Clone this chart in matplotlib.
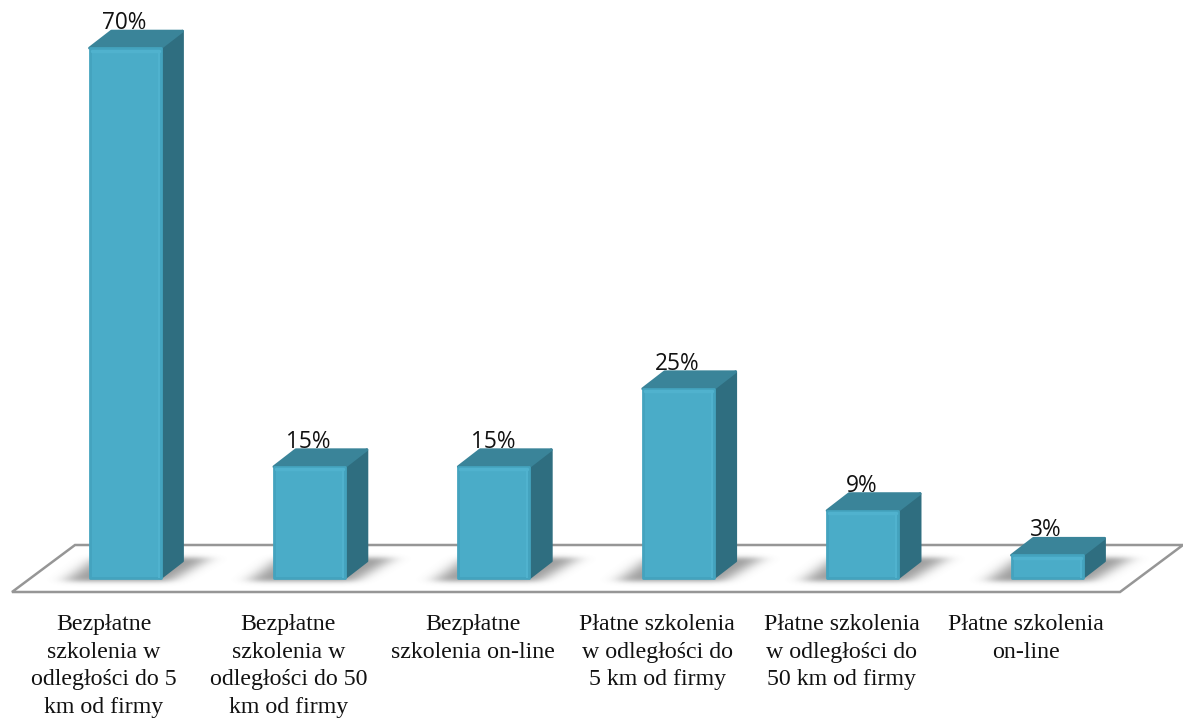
import numpy as np
import matplotlib
matplotlib.use("Agg")
import matplotlib.pyplot as plt
from matplotlib.patches import Polygon
from matplotlib.path import Path

categories = [
    "Bezpłatne\nszkolenia w\nodległości do 5\nkm od firmy",
    "Bezpłatne\nszkolenia w\nodległości do 50\nkm od firmy",
    "Bezpłatne\nszkolenia on-line",
    "Płatne szkolenia\nw odległości do\n5 km od firmy",
    "Płatne szkolenia\nw odległości do\n50 km od firmy",
    "Płatne szkolenia\non-line",
]
values = [70, 14.7, 14.7, 25, 8.9, 3]   # bar heights

W, H = 1183, 718
fig = plt.figure(figsize=(W / 100, H / 100), dpi=100)
ax = fig.add_axes([0, 0, 1, 1])
px_x = 184.4      # pixels per category
px_y = 7.57       # pixels per percent
x0_px = 125.0     # pixel of first category centre
y0_px = 578.0     # pixel of value 0
ax.set_xlim(-x0_px / px_x, (W - x0_px) / px_x)
ax.set_ylim(-(H - y0_px) / px_y, y0_px / px_y)
ax.axis("off")

def X(px):
    return (px - x0_px) / px_x
def Y(px):
    return (y0_px - px) / px_y

# floor
floor = [(12, 592), (1120, 592), (1183, 545), (75, 545)]
ax.add_patch(Polygon([(X(a), Y(b)) for a, b in floor], closed=True, fc="white",
                     ec="#969696", lw=1.8, joinstyle="miter", zorder=1))

# blurred shadow sprite, in pixel offsets from the bar centre
sx = np.arange(-110, 140)
sy = np.arange(540, 600)
gx, gy = np.meshgrid(sx, sy)
shape = Path([(-60, 581), (46, 581), (86, 557), (-28, 557)])
mask = shape.contains_points(np.c_[gx.ravel(), gy.ravel()]).reshape(gx.shape).astype(float)
kern = np.exp(-0.5 * (np.arange(-27, 28) / 9.0) ** 2)
kern /= kern.sum()
kern_y = np.exp(-0.5 * (np.arange(-8, 9) / 2.4) ** 2)
kern_y /= kern_y.sum()
blur = np.apply_along_axis(lambda r: np.convolve(r, kern, mode="same"), 1, mask)
blur = np.apply_along_axis(lambda c: np.convolve(c, kern_y, mode="same"), 0, blur)
rgba = np.zeros(blur.shape + (4,))
rgba[..., :3] = 0.38
rgba[..., 3] = blur * 0.62

hw = 35.5 / px_x
dx = 22 / px_x
dy = 17 / px_y
FRONT, EDGE, LIGHT, TOP, SIDE = "#4AACC8", "#44A3BE", "#50B2CE", "#3A8499", "#2F6E80"

for i, v in enumerate(values):
    c = x0_px + px_x * i
    ax.imshow(rgba, extent=(X(c + sx[0]), X(c + sx[-1]), Y(sy[-1]), Y(sy[0])),
              origin="upper", aspect="auto", interpolation="bilinear", zorder=2)
    l, r = i - hw, i + hw
    ax.add_patch(Polygon([(r, 0), (r + dx, dy), (r + dx, v + dy), (r, v)], closed=True,
                         fc=SIDE, ec=SIDE, lw=2, joinstyle="round", zorder=3))
    ax.add_patch(Polygon([(l, v), (r, v), (r + dx, v + dy), (l + dx, v + dy)], closed=True,
                         fc=TOP, ec=TOP, lw=2, joinstyle="round", zorder=3))
    ax.add_patch(Polygon([(l, 0), (r, 0), (r, v), (l, v)], closed=True,
                         fc=FRONT, ec=EDGE, lw=2, joinstyle="round", zorder=4))
    ax.plot([l + 2 / px_x, r - 2 / px_x], [v - 2.5 / px_y] * 2, color=LIGHT, lw=2.5, zorder=5,
            solid_capstyle="round")
    ax.plot([r - 2 / px_x] * 2, [1 / px_y, v - 3 / px_y], color=LIGHT, lw=1.5, zorder=5)
    ax.text(i - 1 / px_x, v + dy - 4 / px_y, f"{v:.0f}%", ha="center", va="bottom",
            fontsize=16.3, family="Open Sans", color="#111111", zorder=6)
    ax.text(i - 21 / px_x, Y(614), categories[i], ha="center", va="top", fontsize=17.2,
            family="Liberation Serif", color="#111111", linespacing=1.41, zorder=6)

ax.set_xlim(-x0_px / px_x, (W - x0_px) / px_x)
ax.set_ylim(-(H - y0_px) / px_y, y0_px / px_y)
fig.savefig("out.png", dpi=100)
